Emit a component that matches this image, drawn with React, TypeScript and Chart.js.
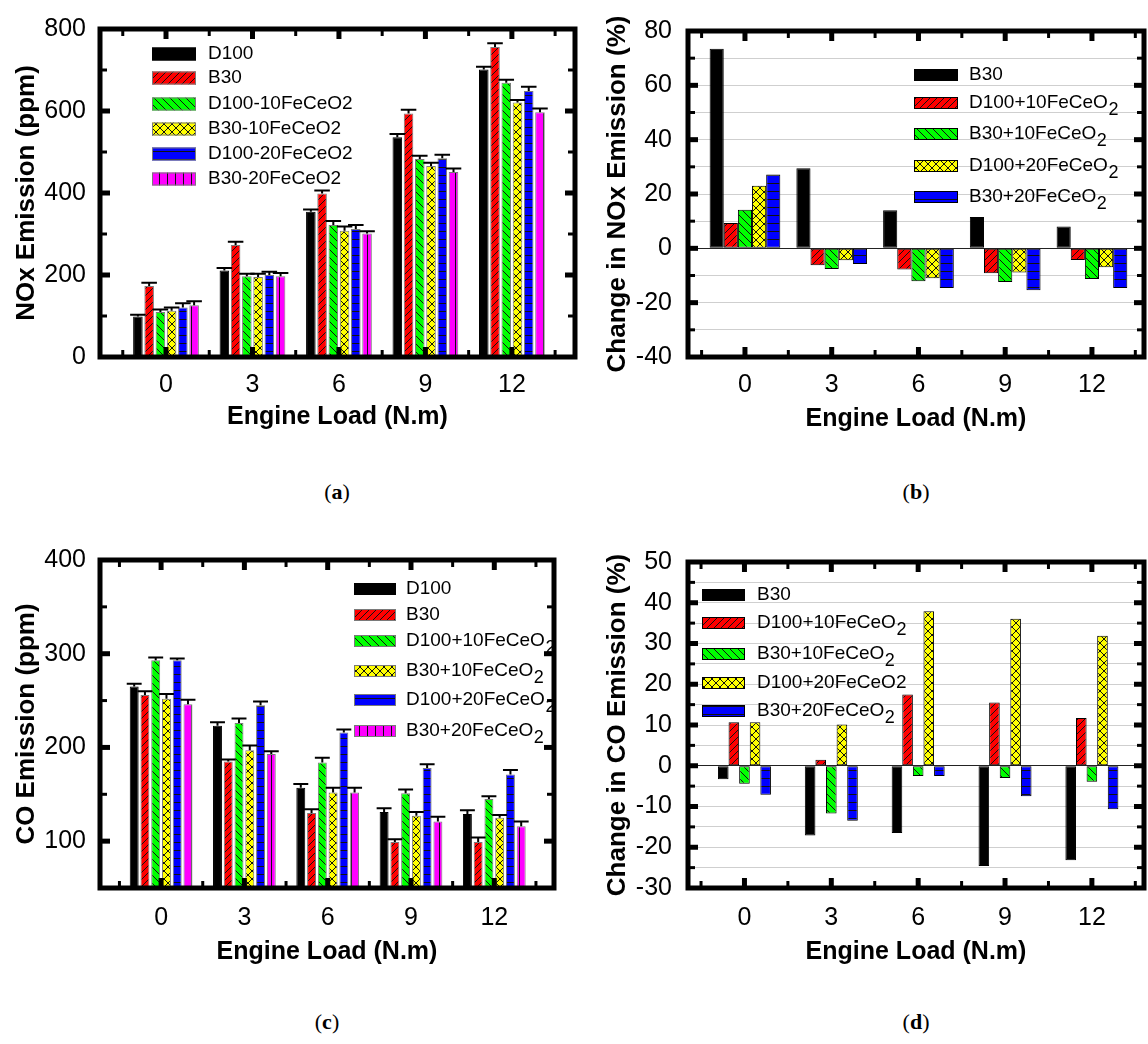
import React, { useEffect, useRef } from "react";
import { Chart, registerables } from "chart.js";

Chart.register(...registerables);

const FONT = "'Liberation Sans', Arial, Helvetica, sans-serif";
Chart.defaults.font.family = FONT;
Chart.defaults.color = "#000";

// ---------------- data ----------------
const engineLoads = [0, 3, 6, 9, 12];
const xTitle = "Engine Load (N.m)";

// (a) NOx emission (ppm)
const noxNames = ["D100", "B30", "D100-10FeCeO2", "B30-10FeCeO2", "D100-20FeCeO2", "B30-20FeCeO2"];
const noxD100 = [99, 211, 354, 536, 701];
const noxB30 = [173, 273, 399, 594, 756];
const noxD100_10 = [110, 197, 322, 483, 669];
const noxB30_10 = [113, 195, 308, 466, 621];
const noxD100_20 = [121, 200, 312, 485, 649];
const noxB30_20 = [126, 197, 301, 451, 597];
const noxErrD100 = [4, 6, 6, 8, 7];
const noxErrB30 = [8, 8, 7, 9, 9];
const noxErrD100_10 = [6, 6, 10, 8, 7];
const noxErrB30_10 = [8, 8, 10, 8, 6];
const noxErrD100_20 = [10, 8, 10, 8, 10];
const noxErrB30_20 = [10, 8, 6, 9, 9];
const noxYTicks = [0, 200, 400, 600, 800];

// (b) change in NOx emission (%)
const noxChgNames = ["B30", "D100+10FeCeO\u2082", "B30+10FeCeO\u2082", "D100+20FeCeO\u2082", "B30+20FeCeO\u2082"];
const noxChgB30 = [73.5, 29.5, 14.0, 11.5, 8.0];
const noxChgD100_10 = [9.3, -6.2, -7.8, -9.2, -4.3];
const noxChgB30_10 = [14.2, -7.6, -12.1, -12.4, -11.3];
const noxChgD100_20 = [23.0, -4.4, -11.0, -8.9, -7.0];
const noxChgB30_20 = [27.2, -5.8, -14.6, -15.4, -14.6];
const noxChgYTicks = [-40, -20, 0, 20, 40, 60, 80];

// (c) CO emission (ppm)
const coNames = ["D100", "B30", "D100+10FeCeO\u2082", "B30+10FeCeO\u2082", "D100+20FeCeO\u2082", "B30+20FeCeO\u2082"];
const coD100 = [265, 223, 157, 131, 129];
const coB30 = [256, 185, 130, 99, 99];
const coD100_10 = [293, 226, 184, 151, 145];
const coB30_10 = [252, 197, 152, 127, 125];
const coD100_20 = [293, 245, 216, 178, 171];
const coB30_20 = [246, 193, 152, 121, 116];
const coErrD100 = [3, 4, 4, 4, 4];
const coErrB30 = [4, 2, 4, 3, 5];
const coErrD100_10 = [3, 5, 5, 4, 3];
const coErrB30_10 = [5, 5, 5, 4, 3];
const coErrD100_20 = [2, 4, 3, 4, 5];
const coErrB30_20 = [5, 3, 5, 5, 5];
const coYTicks = [100, 200, 300, 400];

// (d) change in CO emission (%)
const coChgNames = ["B30", "D100+10FeCeO\u2082", "B30+10FeCeO\u2082", "D100+20FeCeO2", "B30+20FeCeO\u2082"];
const coChgB30 = [-3.3, -17.1, -16.5, -24.6, -23.2];
const coChgD100_10 = [10.7, 1.5, 17.5, 15.5, 11.7];
const coChgB30_10 = [-4.4, -11.7, -2.5, -3.0, -3.9];
const coChgD100_20 = [10.7, 10.1, 37.9, 36.1, 31.9];
const coChgB30_20 = [-7.1, -13.5, -2.5, -7.5, -10.7];
const coChgYTicks = [-30, -20, -10, 0, 10, 20, 30, 40, 50];

// ---------------- styling helpers ----------------
type Kind = "solid" | "fwd" | "back" | "cross" | "hline" | "vline";

function makeFill(bg: string, kind: Kind): any {
  if (kind === "solid") return bg;
  const s = kind === "fwd" ? 7 : 8;
  const c = document.createElement("canvas");
  c.width = s;
  c.height = s;
  const g = c.getContext("2d")!;
  g.fillStyle = bg;
  g.fillRect(0, 0, s, s);
  g.strokeStyle = "#111";
  g.lineWidth = 1;
  g.beginPath();
  const fwd = () => {
    g.moveTo(0, s); g.lineTo(s, 0);
    g.moveTo(-1, 1); g.lineTo(1, -1);
    g.moveTo(s - 1, s + 1); g.lineTo(s + 1, s - 1);
  };
  const back = () => {
    g.moveTo(0, 0); g.lineTo(s, s);
    g.moveTo(s - 1, -1); g.lineTo(s + 1, 1);
    g.moveTo(-1, s - 1); g.lineTo(1, s + 1);
  };
  if (kind === "fwd") fwd();
  if (kind === "back") back();
  if (kind === "cross") { fwd(); back(); }
  if (kind === "hline") { g.moveTo(0, s - 0.5); g.lineTo(s, s - 0.5); }
  if (kind === "vline") { g.moveTo(s - 0.5, 0); g.lineTo(s - 0.5, s); }
  g.stroke();
  return g.createPattern(c, "repeat");
}

const STYLE6: [string, Kind][] = [
  ["#000000", "solid"],
  ["#ff0000", "fwd"],
  ["#00ff00", "back"],
  ["#ffff00", "cross"],
  ["#0000ff", "hline"],
  ["#ff00ff", "vline"],
];
const STYLE5: [string, Kind][] = STYLE6.slice(0, 5);

type Panel = {
  x: number; y: number; w: number; h: number;
  area: { l: number; t: number; r: number; b: number };
  xRange: [number, number];
  yRange: [number, number];
  yTicks: number[];
  yGrid: boolean;
  yTitle: string;
  yTitlePad: number;
  yLabelPad: number;
  xLabelPad: number;
  xTitlePad: number;
  names: string[];
  values: number[][];
  errors?: number[][];
  styles: [string, Kind][];
  catPct: number; barPct: number; edge: string;
  legend: { boxX: number; textX: number; rows: number[]; boxW: number; boxH: number };
  caption: string; capX: number; capY: number;
};

const XAXIS_H = 80;

const panels: Panel[] = [
  {
    x: 0, y: 0, w: 580, h: 470,
    area: { l: 100, t: 22, r: 575, b: 357 },
    xRange: [-2.29, 14.19], yRange: [0, 800], yTicks: noxYTicks, yGrid: false,
    yTitle: "NOx Emission (ppm)", yTitlePad: 11, yLabelPad: 14, xLabelPad: 13, xTitlePad: 5,
    names: noxNames,
    values: [noxD100, noxB30, noxD100_10, noxB30_10, noxD100_20, noxB30_20],
    errors: [noxErrD100, noxErrB30, noxErrD100_10, noxErrB30_10, noxErrD100_20, noxErrB30_20],
    styles: STYLE6, catPct: 0.78, barPct: 0.85, edge: "#7a7a7a",
    legend: { boxX: 52, textX: 108, rows: [25, 49, 75, 100, 125, 150], boxW: 44, boxH: 13 },
    caption: "a", capX: 337, capY: 492,
  },
  {
    x: 580, y: 0, w: 568, h: 470,
    area: { l: 108, t: 22, r: 564, b: 357 },
    xRange: [-1.97, 13.8], yRange: [-40, 80], yTicks: noxChgYTicks, yGrid: true,
    yTitle: "Change in NOx Emission (%)", yTitlePad: 22, yLabelPad: 16, xLabelPad: 13, xTitlePad: 3,
    names: noxChgNames,
    values: [noxChgB30, noxChgD100_10, noxChgB30_10, noxChgD100_20, noxChgB30_20],
    styles: STYLE5, catPct: 0.815, barPct: 1.0, edge: "#000",
    legend: { boxX: 226, textX: 281, rows: [44, 72, 103, 135, 166], boxW: 44, boxH: 12 },
    caption: "b", capX: 916, capY: 492,
  },
  {
    x: 0, y: 531, w: 580, h: 470,
    area: { l: 100, t: 22, r: 554, b: 357 },
    xRange: [-2.2, 14.15], yRange: [50, 400], yTicks: coYTicks, yGrid: false,
    yTitle: "CO Emission (ppm)", yTitlePad: 11, yLabelPad: 14, xLabelPad: 15, xTitlePad: 1,
    names: coNames,
    values: [coD100, coB30, coD100_10, coB30_10, coD100_20, coB30_20],
    errors: [coErrD100, coErrB30, coErrD100_10, coErrB30_10, coErrD100_20, coErrB30_20],
    styles: STYLE6, catPct: 0.775, barPct: 0.83, edge: "#7a7a7a",
    legend: { boxX: 254, textX: 306, rows: [29, 55, 81, 111, 140, 171], boxW: 42, boxH: 12 },
    caption: "c", capX: 327, capY: 1022,
  },
  {
    x: 580, y: 531, w: 568, h: 470,
    area: { l: 108, t: 22, r: 564, b: 357 },
    xRange: [-1.95, 13.8], yRange: [-30, 50], yTicks: coChgYTicks, yGrid: true,
    yTitle: "Change in CO Emission (%)", yTitlePad: 22, yLabelPad: 16, xLabelPad: 15, xTitlePad: 1,
    names: coChgNames,
    values: [coChgB30, coChgD100_10, coChgB30_10, coChgD100_20, coChgB30_20],
    styles: STYLE5, catPct: 0.61, barPct: 1.0, edge: "#000",
    legend: { boxX: 14, textX: 69, rows: [33, 61, 92, 121, 149], boxW: 43, boxH: 12 },
    caption: "d", capX: 916, capY: 1022,
  },
];

function midpoints(arr: number[], lo: number, hi: number): number[] {
  if (arr.length < 2) return [];
  const step = arr[1] - arr[0];
  const out: number[] = [];
  for (let v = arr[0] - step / 2; v <= arr[arr.length - 1] + step / 2 + 1e-9; v += step) {
    if (v > lo + 1e-9 && v < hi - 1e-9) out.push(v);
  }
  return out;
}

const decoPlugin = {
  id: "deco",
  afterDatasetsDraw(chart: any) {
    const ctx = chart.ctx;
    const ys = chart.scales.y;
    chart.data.datasets.forEach((ds: any, di: number) => {
      if (!ds.errors) return;
      const meta = chart.getDatasetMeta(di);
      meta.data.forEach((el: any, j: number) => {
        const v = ds.data[j].y;
        const e = ds.errors[j];
        const yTop = ys.getPixelForValue(v + e);
        const half = el.width / 2 + 3;
        ctx.save();
        ctx.strokeStyle = "#000";
        ctx.lineWidth = 2;
        ctx.beginPath();
        ctx.moveTo(el.x, el.y);
        ctx.lineTo(el.x, yTop);
        ctx.moveTo(el.x - half, yTop);
        ctx.lineTo(el.x + half, yTop);
        ctx.stroke();
        ctx.restore();
      });
    });
  },
  afterDraw(chart: any, _args: any, opts: any) {
    const ctx = chart.ctx;
    const { left, right, top, bottom } = chart.chartArea;
    const xs = chart.scales.x;
    const ys = chart.scales.y;
    ctx.save();
    ctx.strokeStyle = "#000";
    ctx.lineCap = "butt";
    const line = (x1: number, y1: number, x2: number, y2: number, w: number) => {
      ctx.lineWidth = w;
      ctx.beginPath();
      ctx.moveTo(x1, y1);
      ctx.lineTo(x2, y2);
      ctx.stroke();
    };
    const [ymin, ymax] = [ys.min, ys.max];
    const [xmin, xmax] = [xs.min, xs.max];
    const yMaj: number[] = opts.yMajor.filter((v: number) => v > ymin && v < ymax);
    const yMin: number[] = midpoints(opts.yMajor, ymin, ymax);
    yMaj.forEach((v: number) => {
      const p = ys.getPixelForValue(v);
      line(left, p, left + 10, p, 5);
      line(right, p, right - 10, p, 5);
    });
    yMin.forEach((v: number) => {
      const p = ys.getPixelForValue(v);
      line(left, p, left + 7, p, 3);
      line(right, p, right - 7, p, 3);
    });
    const xMaj: number[] = opts.xMajor;
    const xMin: number[] = midpoints(opts.xMajor, xmin, xmax);
    xMaj.forEach((v: number) => {
      const p = xs.getPixelForValue(v);
      line(p, bottom, p, bottom - 10, 5);
      line(p, top, p, top + 10, 5);
    });
    xMin.forEach((v: number) => {
      const p = xs.getPixelForValue(v);
      line(p, bottom, p, bottom - 7, 3);
      line(p, top, p, top + 7, 3);
    });
    // frame
    ctx.lineWidth = 5;
    ctx.lineJoin = "miter";
    ctx.strokeRect(left, top, right - left, bottom - top);

    // legend
    const lg = opts.legend;
    chart.data.datasets.forEach((ds: any, i: number) => {
      const cy = top + lg.rows[i];
      const bx = left + lg.boxX;
      ctx.fillStyle = ds.backgroundColor;
      ctx.fillRect(bx, cy - lg.boxH / 2, lg.boxW, lg.boxH);
      ctx.lineWidth = 1;
      ctx.strokeStyle = ds.borderColor;
      ctx.strokeRect(bx + 0.5, cy - lg.boxH / 2 + 0.5, lg.boxW - 1, lg.boxH - 1);
      let tx = left + lg.textX;
      ctx.fillStyle = "#000";
      ctx.textBaseline = "middle";
      ctx.textAlign = "left";
      const parts = String(ds.label).split("\u2082");
      parts.forEach((part: string, k: number) => {
        ctx.font = `19px ${FONT}`;
        ctx.fillText(part, tx, cy);
        tx += ctx.measureText(part).width;
        if (k < parts.length - 1) {
          ctx.font = `18px ${FONT}`;
          ctx.fillText("2", tx + 0.5, cy + 7);
          tx += ctx.measureText("2").width + 0.5;
        }
      });
    });
    ctx.restore();
  },
};

function buildConfig(p: Panel): any {
  const datasets = p.names.map((name, i) => ({
    label: name,
    data: engineLoads.map((x, j) => ({ x, y: p.values[i][j] })),
    backgroundColor: makeFill(p.styles[i][0], p.styles[i][1]),
    borderColor: i === 0 ? "#000" : p.edge,
    borderWidth: 1,
    borderSkipped: false,
    categoryPercentage: p.catPct,
    barPercentage: p.barPct,
    errors: p.errors ? p.errors[i] : undefined,
  }));
  const yAll = p.yGrid ? [...p.yTicks, ...midpoints(p.yTicks, p.yRange[0] - 1, p.yRange[1] + 1)].sort((a, b) => a - b) : p.yTicks;
  return {
    type: "bar",
    data: { datasets },
    plugins: [decoPlugin],
    options: {
      animation: false,
      responsive: false,
      maintainAspectRatio: false,
      events: [],
      layout: {
        padding: { left: 0, top: p.area.t, right: p.w - p.area.r, bottom: p.h - p.area.b - XAXIS_H },
      },
      plugins: {
        legend: { display: false },
        tooltip: { enabled: false },
        deco: { yMajor: p.yTicks, xMajor: engineLoads, legend: p.legend },
      },
      scales: {
        x: {
          type: "linear",
          offset: false,
          min: p.xRange[0],
          max: p.xRange[1],
          afterBuildTicks: (s: any) => { s.ticks = engineLoads.map((v) => ({ value: v })); },
          afterFit: (s: any) => { s.height = XAXIS_H; },
          grid: { display: false, drawTicks: false, offset: false },
          border: { display: false },
          ticks: {
            font: { size: 25, family: FONT }, color: "#000", padding: p.xLabelPad,
            maxRotation: 0, autoSkip: false,
            callback: (v: any) => String(v),
          },
          title: {
            display: true, text: xTitle, color: "#000",
            font: { size: 25, weight: "bold", family: FONT },
            padding: { top: 0, bottom: p.xTitlePad },
          },
        },
        y: {
          type: "linear",
          min: p.yRange[0],
          max: p.yRange[1],
          afterBuildTicks: (s: any) => { s.ticks = yAll.map((v) => ({ value: v })); },
          afterFit: (s: any) => { s.width = p.area.l; },
          grid: {
            display: p.yGrid,
            drawTicks: false,
            lineWidth: 1,
            color: (c: any) => (c.tick && c.tick.value === 0 ? "#222" : "#cfcfcf"),
          },
          border: { display: false },
          ticks: {
            font: { size: 25, family: FONT }, color: "#000", padding: p.yLabelPad,
            autoSkip: false,
            callback: (v: any) => (p.yTicks.includes(Number(v)) ? String(v) : ""),
          },
          title: {
            display: true, text: p.yTitle, color: "#000",
            font: { size: 26, weight: "bold", family: FONT },
            padding: { top: p.yTitlePad, bottom: 0 },
          },
        },
      },
    },
  };
}

export default function App() {
  const refs = useRef<(HTMLCanvasElement | null)[]>([]);
  useEffect(() => {
    const charts = panels.map((p, i) => new Chart(refs.current[i] as HTMLCanvasElement, buildConfig(p)));
    return () => charts.forEach((c) => c.destroy());
  }, []);
  return (
    <div style={{ position: "absolute", left: 0, top: 0, width: 1148, height: 1044, background: "#fff", overflow: "hidden" }}>
      {panels.map((p, i) => (
        <canvas
          key={i}
          ref={(el) => { refs.current[i] = el; }}
          width={p.w}
          height={p.h}
          style={{ position: "absolute", left: p.x, top: p.y, width: p.w, height: p.h }}
        />
      ))}
      {panels.map((p, i) => (
        <div
          key={"c" + i}
          style={{
            position: "absolute", left: p.capX - 30, top: p.capY - 13, width: 60, height: 26,
            textAlign: "center", lineHeight: "26px", fontSize: 22,
            fontFamily: "'Liberation Serif', 'DejaVu Serif', serif", color: "#000",
          }}
        >
          (<b>{p.caption}</b>)
        </div>
      ))}
    </div>
  );
}
